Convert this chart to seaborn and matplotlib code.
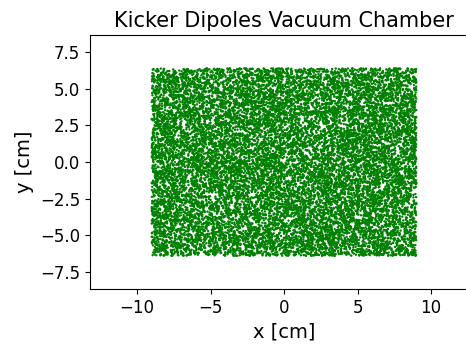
import numpy as np
import pandas as pd
import matplotlib
matplotlib.use("Agg")
import matplotlib.pyplot as plt
import seaborn as sns

# Values: the point cloud fills a rectangle
x_bounds = [-9.0, 9.0]      # cm
y_bounds = [-6.4, 6.4]      # cm
n_points = 16000
x_ticks = [-10, -5, 0, 5, 10]
y_ticks = [-7.5, -5.0, -2.5, 0.0, 2.5, 5.0, 7.5]

# Individual particle positions cannot be read; sample uniformly in the rectangle (fixed seed)
rng = np.random.default_rng(0)
xs = rng.uniform(x_bounds[0], x_bounds[1], n_points)
ys = rng.uniform(y_bounds[0], y_bounds[1], n_points)
df = pd.DataFrame({"x": xs, "y": ys})

sns.set_style("ticks", {"axes.edgecolor": "black", "text.color": "black",
                        "axes.labelcolor": "black", "xtick.color": "black",
                        "ytick.color": "black"})
plt.rcParams["font.family"] = ["DejaVu Sans"]

fig = plt.figure(figsize=(4.66, 3.44), dpi=100)
ax = fig.add_axes([0.193, 0.16, 0.833, 0.738])
sns.scatterplot(data=df, x="x", y="y", ax=ax, color="green", s=3,
                linewidth=0, edgecolor="none")
ax.set_xlim(-13.2, 13.2)
ax.set_ylim(-8.66, 8.66)
ax.set_xticks(x_ticks)
ax.set_yticks(y_ticks)
ax.tick_params(labelsize=12, colors="black")
ax.set_xlabel("x [cm]", fontsize=14)
ax.set_ylabel("y [cm]", fontsize=14)
ax.set_title("Kicker Dipoles Vacuum Chamber", fontsize=15)
fig.savefig("out.png", dpi=100)
